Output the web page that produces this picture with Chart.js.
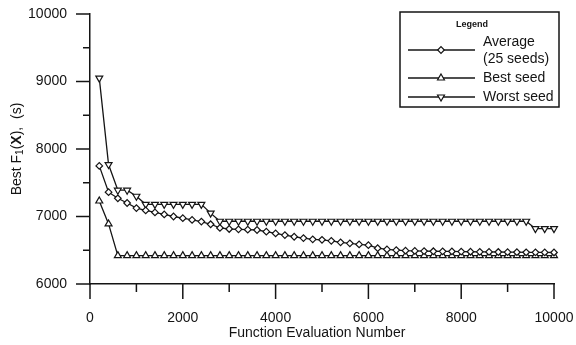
<!DOCTYPE html>
<html>
<head>
<meta charset="utf-8">
<title>Best F1(X) vs Function Evaluation Number</title>
<script src="https://cdn.jsdelivr.net/npm/chart.js@4.4.1/dist/chart.umd.min.js"></script>
<style>
  html, body { margin: 0; padding: 0; background: #fff; }
  #chart { display: block; }
</style>
</head>
<body>
<canvas id="chart" width="576" height="345"></canvas>
<script>
// Function evaluation numbers where the curves were sampled
const evaluations = [
    200, 400, 600, 800, 1000, 1200, 1400, 1600, 1800, 2000,
    2200, 2400, 2600, 2800, 3000, 3200, 3400, 3600, 3800, 4000,
    4200, 4400, 4600, 4800, 5000, 5200, 5400, 5600, 5800, 6000,
    6200, 6400, 6600, 6800, 7000, 7200, 7400, 7600, 7800, 8000,
    8200, 8400, 8600, 8800, 9000, 9200, 9400, 9600, 9800, 10000
];

// Best F1(X) in seconds
const averageSeeds = [
    7750, 7360, 7270, 7200, 7125, 7090, 7060, 7030, 7000, 6975,
    6950, 6925, 6885, 6830, 6815, 6810, 6805, 6800, 6775, 6750,
    6725, 6700, 6680, 6662, 6655, 6640, 6617, 6602, 6587, 6575,
    6530, 6512, 6502, 6494, 6490, 6488, 6485, 6484, 6482, 6480,
    6478, 6477, 6475, 6474, 6472, 6471, 6470, 6469, 6468, 6467
];
const bestSeed = [
    7230, 6890, 6420, 6420, 6420, 6420, 6420, 6420, 6420, 6420,
    6420, 6420, 6420, 6420, 6420, 6420, 6420, 6420, 6420, 6420,
    6420, 6420, 6420, 6420, 6420, 6420, 6420, 6420, 6420, 6420,
    6420, 6420, 6420, 6420, 6420, 6420, 6420, 6420, 6420, 6420,
    6420, 6420, 6420, 6420, 6420, 6420, 6420, 6420, 6420, 6420
];
const worstSeed = [
    9050, 7770, 7390, 7390, 7300, 7180, 7180, 7180, 7180, 7180,
    7180, 7180, 7050, 6930, 6930, 6930, 6930, 6930, 6930, 6930,
    6930, 6930, 6930, 6930, 6930, 6930, 6930, 6930, 6930, 6930,
    6930, 6930, 6930, 6930, 6930, 6930, 6930, 6930, 6930, 6930,
    6930, 6930, 6930, 6930, 6930, 6930, 6930, 6820, 6820, 6820
];

const xTicks = [0, 2000, 4000, 6000, 8000, 10000];
const xMinorTicks = [1000, 3000, 5000, 7000, 9000];
const yTicks = [6000, 7000, 8000, 9000, 10000];
const yMinorTicks = [6500, 7500, 8500, 9500];

const legendTitle = 'Legend';
const legendLabels = [['Average', '(25 seeds)'], ['Best seed'], ['Worst seed']];
const xTitle = 'Function Evaluation Number';

const ink = '#141414';
const fontFamily = '"Liberation Sans", Arial, Helvetica, sans-serif';

// marker look for each series (same order as legendLabels)
const markers = [
    { pointStyle: 'rectRot', radius: 3.3, rotation: 0 },
    { pointStyle: 'triangle', radius: 4, rotation: 0 },
    { pointStyle: 'triangle', radius: 4, rotation: 180 }
];

function toPoints(values) {
    return evaluations.map((x, i) => ({ x: x, y: values[i] }));
}

function makeDataset(label, values, marker) {
    return {
        label: label,
        data: toPoints(values),
        borderColor: ink,
        borderWidth: 1.3,
        backgroundColor: '#fff',
        pointStyle: marker.pointStyle,
        pointRadius: marker.radius,
        pointRotation: marker.rotation,
        pointBorderWidth: 1.2,
        pointBorderColor: ink,
        pointBackgroundColor: '#fff',
        tension: 0,
        clip: false
    };
}

function drawMarker(ctx, marker, x, y) {
    ctx.save();
    ctx.fillStyle = '#fff';
    ctx.strokeStyle = ink;
    ctx.lineWidth = 1.2;
    Chart.helpers.drawPoint(ctx, {
        pointStyle: marker.pointStyle,
        radius: marker.radius,
        rotation: marker.rotation,
        borderWidth: 1.2
    }, x, y);
    ctx.restore();
}

// tick marks, axis titles and the boxed legend
const extrasPlugin = {
    id: 'extras',
    afterDraw(chart) {
        const ctx = chart.ctx;
        const area = chart.chartArea;
        const xs = chart.scales.x;
        const ys = chart.scales.y;

        ctx.save();
        ctx.strokeStyle = ink;
        ctx.lineWidth = 1.5;

        const line = (x1, y1, x2, y2) => {
            ctx.beginPath();
            ctx.moveTo(x1, y1);
            ctx.lineTo(x2, y2);
            ctx.stroke();
        };

        xTicks.forEach(v => { const p = xs.getPixelForValue(v); line(p, area.bottom, p, area.bottom + 15); });
        xMinorTicks.forEach(v => { const p = xs.getPixelForValue(v); line(p, area.bottom, p, area.bottom + 8); });
        yTicks.forEach(v => { const p = ys.getPixelForValue(v); line(area.left - 14, p, area.left, p); });
        yMinorTicks.forEach(v => { const p = ys.getPixelForValue(v); line(area.left - 7, p, area.left, p); });

        // x title
        ctx.fillStyle = ink;
        ctx.font = '14px ' + fontFamily;
        ctx.textAlign = 'center';
        ctx.textBaseline = 'middle';
        ctx.fillText(xTitle, (area.left + area.right) / 2 - 5, 333);

        // y title: Best F1(X), (s) with subscript and bold X
        const pieces = [
            { text: 'Best F', font: '14px ' + fontFamily, dy: 0 },
            { text: '1', font: '10px ' + fontFamily, dy: 3 },
            { text: '(', font: '14px ' + fontFamily, dy: 0 },
            { text: 'X', font: 'bold 14px ' + fontFamily, dy: 0 },
            { text: '),  (s)', font: '14px ' + fontFamily, dy: 0 }
        ];
        let total = 0;
        pieces.forEach(pc => { ctx.font = pc.font; pc.w = ctx.measureText(pc.text).width; total += pc.w; });
        ctx.save();
        ctx.translate(17, (area.top + area.bottom) / 2);
        ctx.rotate(-Math.PI / 2);
        ctx.textAlign = 'left';
        let cx = -total / 2;
        pieces.forEach(pc => {
            ctx.font = pc.font;
            ctx.fillText(pc.text, cx, pc.dy);
            cx += pc.w;
        });
        ctx.restore();

        // legend box
        ctx.lineWidth = 1.5;
        ctx.strokeRect(400, 12, 159, 95);
        ctx.font = 'bold 9px ' + fontFamily;
        ctx.textAlign = 'center';
        ctx.fillText(legendTitle, 472, 25);

        const rowY = [50, 78, 97];
        legendLabels.forEach((lines, i) => {
            ctx.lineWidth = 1.3;
            line(408, rowY[i], 475, rowY[i]);
            drawMarker(ctx, markers[i], 441, rowY[i]);
            ctx.fillStyle = ink;
            ctx.textAlign = 'left';
            ctx.font = '14px ' + fontFamily;
            if (lines.length === 2) {
                ctx.fillText(lines[0], 483, rowY[i] - 8);
                ctx.fillText(lines[1], 483, rowY[i] + 9);
            } else {
                ctx.fillText(lines[0], 483, rowY[i]);
            }
        });
        ctx.restore();
    }
};

new Chart(document.getElementById('chart').getContext('2d'), {
    type: 'line',
    data: {
        datasets: [
            makeDataset(legendLabels[0].join(' '), averageSeeds, markers[0]),
            makeDataset(legendLabels[1][0], bestSeed, markers[1]),
            makeDataset(legendLabels[2][0], worstSeed, markers[2])
        ]
    },
    options: {
        responsive: false,
        animation: false,
        devicePixelRatio: 1,
        layout: { padding: { left: 0, top: 14, right: 22, bottom: 0 } },
        plugins: {
            legend: { display: false },
            tooltip: { enabled: false }
        },
        scales: {
            x: {
                type: 'linear',
                min: 0,
                max: 10000,
                afterBuildTicks: s => { s.ticks = xTicks.map(v => ({ value: v })); },
                afterFit: s => {
                    s.height = 61;
                    s.paddingLeft = 0;
                    s.paddingRight = 0;
                },
                grid: { display: false, drawTicks: false },
                border: { display: true, color: ink, width: 1.5 },
                ticks: {
                    color: ink,
                    font: { size: 14, family: fontFamily },
                    padding: 26,
                    maxRotation: 0,
                    autoSkip: false,
                    callback: v => String(v)
                }
            },
            y: {
                type: 'linear',
                min: 6000,
                max: 10000,
                afterBuildTicks: s => { s.ticks = yTicks.map(v => ({ value: v })); },
                afterFit: s => {
                    s.width = 90;
                    s.paddingTop = 0;
                    s.paddingBottom = 0;
                },
                grid: { display: false, drawTicks: false },
                border: { display: true, color: ink, width: 1.5 },
                ticks: {
                    color: ink,
                    font: { size: 14, family: fontFamily },
                    padding: 23,
                    callback: v => String(v)
                }
            }
        }
    },
    plugins: [extrasPlugin]
});
</script>
</body>
</html>
